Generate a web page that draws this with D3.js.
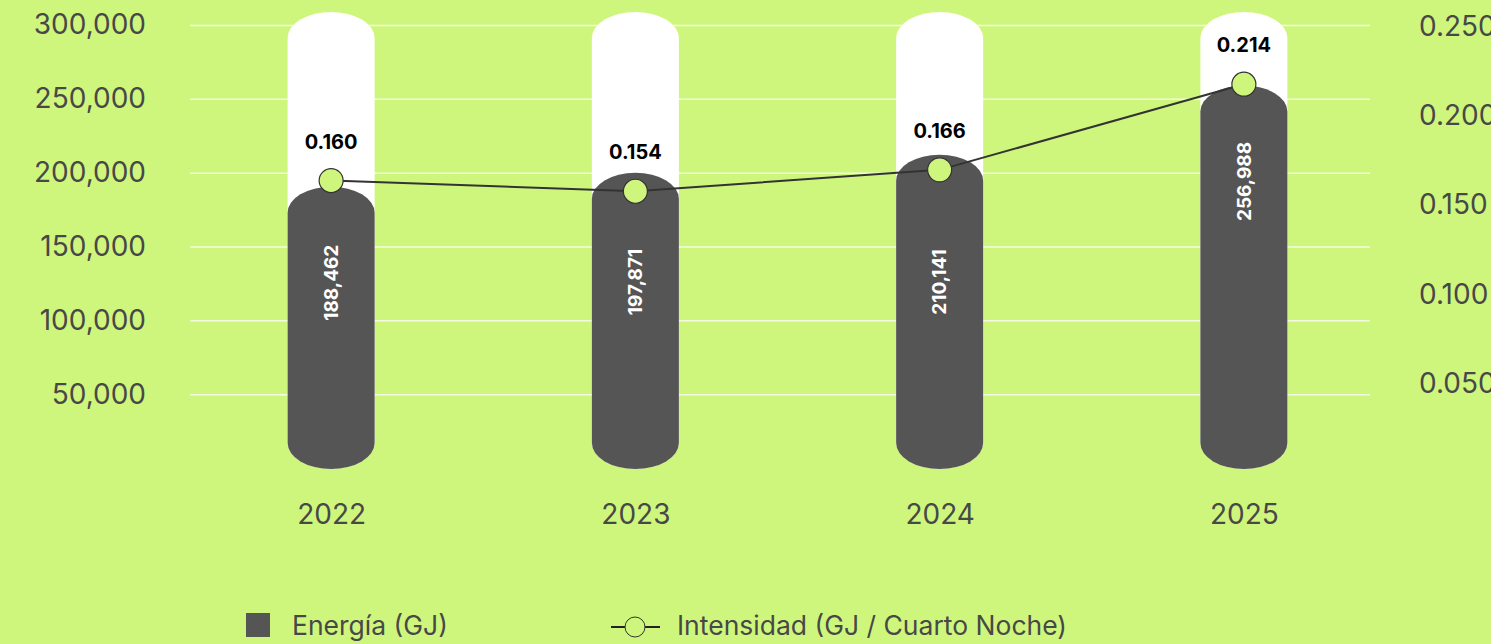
<!DOCTYPE html>
<html>
<head>
<meta charset="utf-8">
<script src="https://cdn.jsdelivr.net/npm/d3@7"></script>
<style>
	body { margin: 0; background: #cff67c; }
	svg { display: block; font-family: Inter, 'Noto Sans', sans-serif; }
</style>
</head>
<body>
<svg width="1491" height="644"></svg>
<script>
// data
const years = ['2022', '2023', '2024', '2025'];
const energy = [188462, 197871, 210141, 256988];
const intensity = [0.160, 0.154, 0.166, 0.214];
const leftTicks = [50000, 100000, 150000, 200000, 250000, 300000];
const rightTicks = [0.05, 0.10, 0.15, 0.20, 0.25];

let bg = '#cff67c';
let dark = '#555555';
let textColor = '#484848';

let svg = d3.select('svg');

svg.append('rect')
	.attr('width', 1491)
	.attr('height', 644)
	.attr('fill', bg);

let x = d3.scalePoint()
	.domain(years)
	.range([179, 1396])
	.padding(0.5);

let yLeft = d3.scaleLinear()
	.domain([0, 300000])
	.range([468, 25]);

let yRight = d3.scaleLinear()
	.domain([0, 0.25])
	.range([466, 20]);

let barW = 87;
let ry = 26;

function capsule(cx, top, bottom) {
	let l = cx - barW / 2, r = cx + barW / 2;
	return 'M' + l + ',' + (top + ry) +
		'A' + (barW / 2) + ',' + ry + ' 0 0 1 ' + r + ',' + (top + ry) +
		'L' + r + ',' + (bottom - ry) +
		'A' + (barW / 2) + ',' + ry + ' 0 0 1 ' + l + ',' + (bottom - ry) + 'Z';
}

// gridlines
svg.append('g')
	.attr('transform', 'translate(190,0)')
	.call(d3.axisLeft(yLeft).tickValues(leftTicks).tickSize(-1180).tickFormat(''))
	.call(g => g.select('.domain').remove())
	.call(g => g.selectAll('line').attr('stroke', '#f3fbe2').attr('stroke-width', 1.5));

// left axis
svg.append('g')
	.attr('transform', 'translate(146,0)')
	.call(d3.axisLeft(yLeft).tickValues(leftTicks).tickSize(0).tickPadding(0).tickFormat(d3.format(',')))
	.call(g => g.select('.domain').remove())
	.call(g => g.selectAll('text')
		.attr('fill', textColor)
		.style('font-size', '28px')
		.style('font-family', 'Inter, sans-serif'));

// right axis
svg.append('g')
	.attr('transform', 'translate(1419,0)')
	.call(d3.axisRight(yRight).tickValues(rightTicks).tickSize(0).tickPadding(0).tickFormat(d3.format('.3f')))
	.call(g => g.select('.domain').remove())
	.call(g => g.selectAll('text')
		.attr('fill', textColor)
		.attr('dy', '0.55em')
		.style('font-size', '28px')
		.style('font-family', 'Inter, sans-serif'));

// year labels
svg.append('g')
	.attr('transform', 'translate(0,504)')
	.call(d3.axisBottom(x).tickSize(0).tickPadding(0))
	.call(g => g.select('.domain').remove())
	.call(g => g.selectAll('text')
		.attr('fill', textColor)
		.style('font-size', '28px')
		.style('font-family', 'Inter, sans-serif'));

// background capsules
svg.selectAll('.track')
	.data(years)
	.enter()
	.append('path')
	.attr('class', 'track')
	.attr('fill', '#ffffff')
	.attr('d', d => capsule(x(d), yLeft(300000) - 13, yLeft(0) + 1));

// energy bars
svg.selectAll('.bar')
	.data(energy)
	.enter()
	.append('path')
	.attr('class', 'bar')
	.attr('fill', dark)
	.attr('d', (d, i) => capsule(x(years[i]), yLeft(d) - 3, yLeft(0) + 1));

// label sits ~93px under the bar top, but not higher than 280 unless the bar is tall
function labelY(d) {
	let c = yLeft(d) + 93;
	return c < 200 ? c : Math.max(c, 282);
}

svg.selectAll('.barLabel')
	.data(energy)
	.enter()
	.append('text')
	.attr('class', 'barLabel')
	.attr('transform', (d, i) => 'translate(' + x(years[i]) + ',' + labelY(d) + ') rotate(-90)')
	.attr('text-anchor', 'middle')
	.attr('dy', '0.36em')
	.attr('fill', '#ffffff')
	.style('font-size', '19px')
	.style('font-weight', 700)
	.text(d => d3.format(',')(d));

// intensity line
let line = d3.line()
	.x((d, i) => x(years[i]))
	.y(d => yRight(d));

svg.append('path')
	.datum(intensity)
	.attr('fill', 'none')
	.attr('stroke', '#333333')
	.attr('stroke-width', 2)
	.attr('d', line);

svg.selectAll('.dot')
	.data(intensity)
	.enter()
	.append('circle')
	.attr('class', 'dot')
	.attr('r', 12)
	.attr('cx', (d, i) => x(years[i]))
	.attr('cy', d => yRight(d))
	.attr('fill', bg)
	.attr('stroke', '#333333')
	.attr('stroke-width', 1.2);

svg.selectAll('.dotLabel')
	.data(intensity)
	.enter()
	.append('text')
	.attr('class', 'dotLabel')
	.attr('x', (d, i) => x(years[i]))
	.attr('y', d => yRight(d) - 32)
	.attr('text-anchor', 'middle')
	.attr('fill', '#000000')
	.style('font-size', '20px')
	.style('font-weight', 700)
	.text(d => d3.format('.3f')(d));

// legend
let legend = svg.append('g');

legend.append('rect')
	.attr('x', 246)
	.attr('y', 613)
	.attr('width', 24)
	.attr('height', 24)
	.attr('fill', dark);

legend.append('text')
	.attr('x', 292)
	.attr('y', 625)
	.attr('dy', '0.36em')
	.attr('fill', textColor)
	.style('font-size', '26.5px')
	.text('Energía (GJ)');

legend.append('line')
	.attr('x1', 611)
	.attr('x2', 660)
	.attr('y1', 627)
	.attr('y2', 627)
	.attr('stroke', '#222222')
	.attr('stroke-width', 2);

legend.append('circle')
	.attr('cx', 635)
	.attr('cy', 627)
	.attr('r', 10)
	.attr('fill', bg)
	.attr('stroke', '#333333')
	.attr('stroke-width', 1);

legend.append('text')
	.attr('x', 677)
	.attr('y', 625)
	.attr('dy', '0.36em')
	.attr('fill', textColor)
	.style('font-size', '26.5px')
	.text('Intensidad (GJ / Cuarto Noche)');
</script>
</body>
</html>
